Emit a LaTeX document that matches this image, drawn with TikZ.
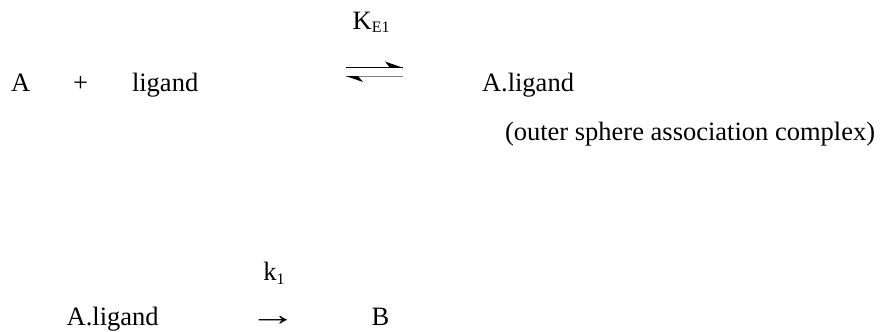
\documentclass[tikz,border=0pt]{standalone}
\usepackage{fontspec}
\setmainfont{Liberation Serif}
\begin{document}
\begin{tikzpicture}[x=1pt,y=-1pt,
  txt/.style={anchor=base west,inner sep=0pt,outer sep=0pt,font=\fontsize{26.5}{30}\selectfont},
  rxline/.style={line width=1pt}]
\useasboundingbox (0,0) rectangle (887,332);
% first equilibrium
\node[txt] (A) at (11,91.7) {A};
\node[txt] (plus) at (73,91.7) {+};
\node[txt] (lig) at (132,91.7) {ligand};
\node[txt] (K) at (352.7,29.3) {K\raisebox{-3.5pt}{\fontsize{16}{16}\selectfont E1}};
\node[txt] (AL) at (482,91.7) {A.ligand};
\node[txt] (outer) at (505,140) {(outer sphere association complex)};
% harpoons
\coordinate (h1s) at (345.7,67.7);
\coordinate (h1e) at (402.7,67.7);
\coordinate (h2s) at (402.7,76);
\coordinate (h2e) at (345.7,76);
\draw[rxline] (h1s) -- (h1e);
\fill (h1e) -- (385,61.5) -- (390,67.7) -- cycle;
\draw[rxline,gray] (h2s) -- (h2e);
\fill (h2e) -- (363,82) -- (358,76) -- cycle;
% second step
\node[txt] (k1) at (263.3,280.7) {k\raisebox{-3.5pt}{\fontsize{16}{16}\selectfont 1}};
\node[txt] (AL2) at (66.7,325) {A.ligand};
\node[txt] (arr) at (249,325) {\scalebox{1.8}[1.2]{→}};
\node[txt] (B) at (371.7,325) {B};
\end{tikzpicture}
\end{document}
